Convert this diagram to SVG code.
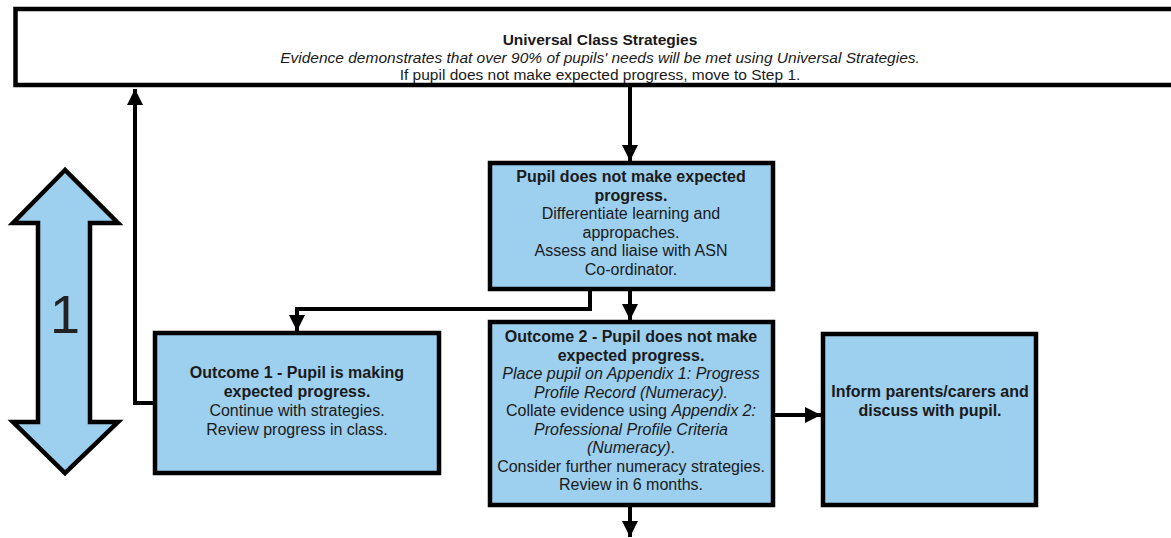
<svg xmlns="http://www.w3.org/2000/svg" width="1171" height="538" viewBox="0 0 1171 538">
<defs>
<style>
.box{fill:#9dcfef;stroke:#000;stroke-width:4.5}
.top{fill:#fff;stroke:#000;stroke-width:4.5}
.t{font-family:"Liberation Sans",Arial,sans-serif;font-size:16px;fill:#1a1a1a;text-anchor:middle}
.tt{font-family:"Liberation Sans",Arial,sans-serif;font-size:15.5px;fill:#1a1a1a;text-anchor:middle}
.b{font-weight:bold}
.i{font-style:italic}
.c{fill:none;stroke:#000;stroke-width:4}
</style>
<marker id="ah" markerUnits="userSpaceOnUse" markerWidth="16" markerHeight="20" viewBox="0 0 16 20" refX="16" refY="10" orient="auto">
<path d="M0,2 L16,10 L0,18 Z" fill="#000"/>
</marker>
</defs>

<g id="universal">
<rect class="top" x="15.5" y="9" width="1170" height="76"/>
<text class="tt b" x="600" y="45">Universal Class Strategies</text>
<text class="tt i" x="600" y="63">Evidence demonstrates that over 90% of pupils' needs will be met using Universal Strategies.</text>
<text class="tt" x="600" y="80">If pupil does not make expected progress, move to Step 1.</text>
</g>

<g id="step1-arrow">
<polygon class="box" points="65,170 13,223 38,223 38,422 13,422 65,473 118,422 90,422 90,223 118,223"/>
<text x="65" y="333" font-family="'Liberation Sans',Arial,sans-serif" font-size="54" fill="#222" text-anchor="middle">1</text>
</g>

<g id="pupil-no-progress">
<rect class="box" x="490" y="163" width="283" height="126"/>
<text class="t b" x="631" y="182">Pupil does not make expected</text>
<text class="t b" x="631" y="200.5">progress.</text>
<text class="t" x="631" y="219">Differentiate learning and</text>
<text class="t" x="631" y="237.5">appropaches.</text>
<text class="t" x="631" y="256">Assess and liaise with ASN</text>
<text class="t" x="631" y="274.5">Co-ordinator.</text>
</g>

<g id="outcome1">
<rect class="box" x="155" y="333" width="284" height="140"/>
<text class="t b" x="297" y="378">Outcome 1 - Pupil is making</text>
<text class="t b" x="297" y="397">expected progress.</text>
<text class="t" x="297" y="416">Continue with strategies.</text>
<text class="t" x="297" y="435">Review progress in class.</text>
</g>

<g id="outcome2">
<rect class="box" x="490" y="322" width="283" height="183"/>
<text class="t b" x="631" y="342">Outcome 2 - Pupil does not make</text>
<text class="t b" x="631" y="360.5">expected progress.</text>
<text class="t i" x="631" y="379">Place pupil on Appendix 1:  Progress</text>
<text class="t i" x="631" y="397.5">Profile Record (Numeracy).</text>
<text class="t" x="631" y="416">Collate evidence using <tspan class="i">Appendix 2:</tspan></text>
<text class="t i" x="631" y="434.5">Professional Profile Criteria</text>
<text class="t" x="631" y="453"><tspan class="i">(Numeracy)</tspan>.</text>
<text class="t" x="631" y="471.5">Consider further numeracy strategies.</text>
<text class="t" x="631" y="490">Review in 6 months.</text>
</g>

<g id="inform">
<rect class="box" x="823" y="334" width="213" height="171"/>
<text class="t b" x="930" y="397">Inform parents/carers and</text>
<text class="t b" x="930" y="416">discuss with pupil.</text>
</g>

<g id="connectors">
<path class="c" d="M630,87 L630,161" marker-end="url(#ah)"/>
<path class="c" d="M590,289 L590,309 L297,309 L297,331" marker-end="url(#ah)"/>
<path class="c" d="M630,289 L630,320" marker-end="url(#ah)"/>
<path class="c" d="M155,403 L135,403 L135,89" marker-end="url(#ah)"/>
<path class="c" d="M773,415 L821,415" marker-end="url(#ah)"/>
<path class="c" d="M630,505 L630,537" marker-end="url(#ah)"/>
</g>
</svg>
